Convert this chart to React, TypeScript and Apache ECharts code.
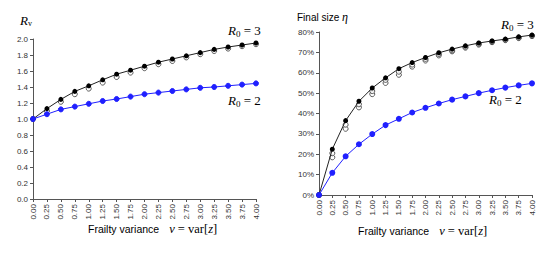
import React, { useEffect, useRef } from "react";
import * as echarts from "echarts";

const frailty = [0, 0.25, 0.5, 0.75, 1, 1.25, 1.5, 1.75, 2, 2.25, 2.5, 2.75, 3, 3.25, 3.5, 3.75, 4];

const rvR03 = [1.0, 1.13, 1.245, 1.345, 1.415, 1.49, 1.56, 1.61, 1.66, 1.71, 1.75, 1.79, 1.83, 1.87, 1.9, 1.925, 1.95];
const rvR03Low = [1.0, 1.1, 1.215, 1.31, 1.38, 1.455, 1.525, 1.58, 1.635, 1.685, 1.725, 1.77, 1.81, 1.85, 1.88, 1.91, 1.935];
const rvR02 = [1.0, 1.06, 1.12, 1.155, 1.19, 1.225, 1.25, 1.28, 1.31, 1.33, 1.35, 1.37, 1.39, 1.4, 1.415, 1.43, 1.445];

const etaR03 = [0, 22.5, 36.5, 46, 52.5, 57.5, 62, 65, 67.5, 69.8, 71.6, 73.2, 74.6, 75.6, 76.5, 77.6, 78.5];
const etaR03Mid = [0, 20.5, 34.5, 44.5, 51, 56.5, 60.5, 64, 66.8, 69.2, 71, 72.8, 74.2, 75.3, 76.2, 77.3, 78.2];
const etaR03Low = [0, 18.5, 32.5, 43, 49.5, 55, 59, 63, 66, 68.5, 70.5, 72.3, 73.8, 75, 76, 77, 78];
const etaR02 = [0, 10.9, 19, 24.9, 29.9, 34.3, 37.4, 40.5, 42.8, 44.9, 46.8, 48.4, 50, 51.4, 52.7, 53.8, 54.8];

const pairs = (ys: number[]) => frailty.map((x, i) => [x, ys[i]]);

const SANS = "Liberation Sans";
const SERIF = "Liberation Serif";
const BLUE = "#2020ff";

export default function App() {
  const ref = useRef<HTMLDivElement>(null);
  useEffect(() => {
    const chart = echarts.init(ref.current!, null, { renderer: "svg" });
    const axisLine = { show: true, lineStyle: { color: "#555", width: 1 } };
    const xAxisBase = (gridIndex: number) => ({
      type: "value",
      gridIndex,
      min: 0,
      max: 4,
      interval: 0.25,
      axisLine,
      axisTick: { show: true, length: 3, lineStyle: { color: "#555" } },
      splitLine: { show: false },
      axisLabel: {
        rotate: 90,
        fontSize: 8,
        fontFamily: SANS,
        color: "#333",
        margin: 5,
        formatter: (v: number) => v.toFixed(2),
      },
    });
    const r0Text = (x: number, y: number, n: string) => ({
      type: "text",
      x,
      y,
      style: {
        text: "{r|R}{s|0}{e| = " + n + "}",
        rich: {
          r: { fontFamily: SERIF, fontStyle: "italic", fontSize: 13, color: "#111" },
          s: { fontFamily: SERIF, fontSize: 9, color: "#111", padding: [6, 0, 0, 0] },
          e: { fontFamily: SERIF, fontSize: 13, color: "#111" },
        },
      },
    });
    const xTitle = (x: number, y: number) => ({
      type: "text",
      x,
      y,
      style: {
        text: "{a|Frailty variance}   {b|v}{c| = var[}{b|z}{c|]}",
        verticalAlign: "middle",
        rich: {
          a: { fontFamily: SANS, fontSize: 10.5, color: "#111" },
          b: { fontFamily: SERIF, fontStyle: "italic", fontSize: 12.5, color: "#111" },
          c: { fontFamily: SERIF, fontSize: 12.5, color: "#111" },
        },
      },
    });
    const hollow = { color: "#fff", borderColor: "#333", borderWidth: 1 };
    chart.setOption({
      animation: false,
      grid: [
        { left: 33, top: 39, width: 223, height: 160 },
        { left: 319, top: 32, width: 213, height: 163 },
      ],
      xAxis: [xAxisBase(0), xAxisBase(1)],
      yAxis: [
        {
          type: "value",
          gridIndex: 0,
          min: 0,
          max: 2,
          interval: 0.2,
          axisLine,
          axisTick: { show: true, length: 3, lineStyle: { color: "#555" } },
          splitLine: { show: false },
          axisLabel: { fontSize: 8, fontFamily: SANS, color: "#333", margin: 5, formatter: (v: number) => v.toFixed(1) },
        },
        {
          type: "value",
          gridIndex: 1,
          min: 0,
          max: 80,
          interval: 10,
          axisLine,
          axisTick: { show: true, length: 3, lineStyle: { color: "#555" } },
          splitLine: { show: false },
          axisLabel: { fontSize: 8, fontFamily: SANS, color: "#333", margin: 5, formatter: (v: number) => v + "%" },
        },
      ],
      series: [
        {
          type: "scatter", xAxisIndex: 0, yAxisIndex: 0, data: pairs(rvR03Low),
          symbol: "circle", symbolSize: 5, itemStyle: hollow,
        },
        {
          type: "line", xAxisIndex: 0, yAxisIndex: 0, data: pairs(rvR03),
          lineStyle: { color: "#222", width: 1 }, symbol: "circle", symbolSize: 5,
          itemStyle: { color: "#000" }, z: 3,
        },
        {
          type: "line", xAxisIndex: 0, yAxisIndex: 0, data: pairs(rvR02),
          lineStyle: { color: BLUE, width: 1 }, symbol: "circle", symbolSize: 5,
          itemStyle: { color: BLUE, borderColor: BLUE },
        },
        {
          type: "scatter", xAxisIndex: 1, yAxisIndex: 1, data: pairs(etaR03Low),
          symbol: "circle", symbolSize: 5, itemStyle: hollow,
        },
        {
          type: "scatter", xAxisIndex: 1, yAxisIndex: 1, data: pairs(etaR03Mid),
          symbol: "circle", symbolSize: 5, itemStyle: hollow,
        },
        {
          type: "line", xAxisIndex: 1, yAxisIndex: 1, data: pairs(etaR03),
          lineStyle: { color: "#222", width: 1 }, symbol: "circle", symbolSize: 5,
          itemStyle: { color: "#000" }, z: 3,
        },
        {
          type: "line", xAxisIndex: 1, yAxisIndex: 1, data: pairs(etaR02),
          lineStyle: { color: BLUE, width: 1 }, symbol: "circle", symbolSize: 6,
          itemStyle: { color: BLUE },
        },
      ],
      graphic: [
        {
          type: "text",
          x: 20,
          y: 13,
          style: {
            text: "{r|R}{s|v}",
            rich: {
              r: { fontFamily: SERIF, fontStyle: "italic", fontSize: 13, color: "#111" },
              s: { fontFamily: SERIF, fontSize: 8, color: "#111", padding: [6, 0, 0, 0] },
            },
          },
        },
        {
          type: "text",
          x: 297,
          y: 11,
          style: {
            text: "{a|Final size }{b|η}",
            rich: {
              a: { fontFamily: SANS, fontSize: 10, color: "#111" },
              b: { fontFamily: SERIF, fontStyle: "italic", fontSize: 12, color: "#111" },
            },
          },
        },
        r0Text(228, 23, "3"),
        r0Text(228, 93, "2"),
        r0Text(501, 17, "3"),
        r0Text(489, 92, "2"),
        xTitle(88, 229),
        xTitle(358, 231),
      ],
    });
    return () => chart.dispose();
  }, []);
  return <div ref={ref} style={{ width: 550, height: 255, margin: -8 }} />;
}
